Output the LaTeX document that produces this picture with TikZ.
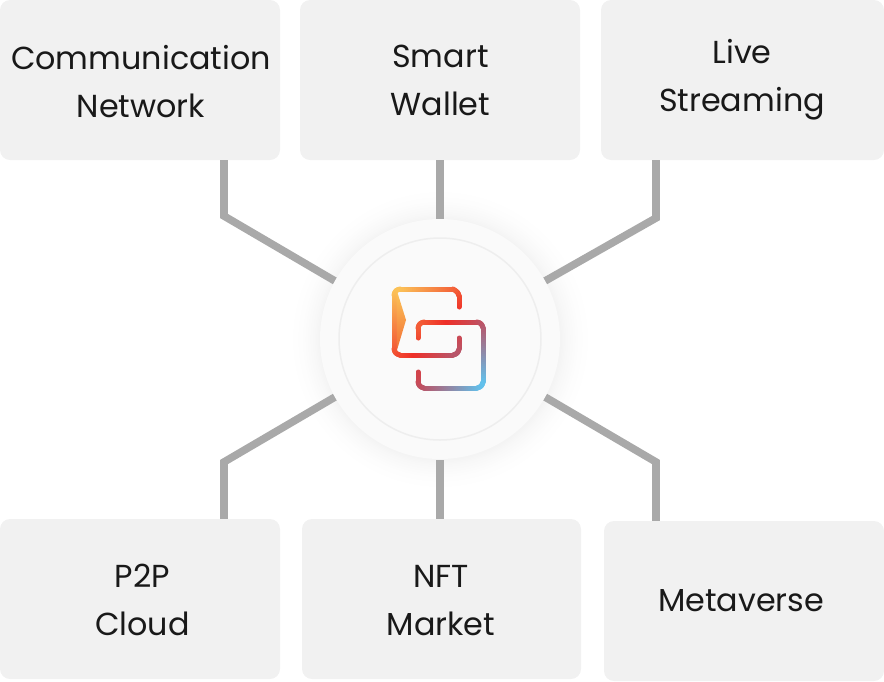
\documentclass[tikz,border=0pt]{standalone}
\usepackage{fontspec}
\setmainfont{Poppins}
\definecolor{boxfill}{HTML}{F1F1F1}
\definecolor{linkgray}{HTML}{A9A9A9}
\definecolor{ringfill}{HTML}{FAFAFA}
\definecolor{ringline}{HTML}{EEEEEE}
\definecolor{gA}{HTML}{FCC95A}
\definecolor{gB}{HTML}{EF2F28}
\definecolor{gC}{HTML}{B8566A}
\definecolor{gD}{HTML}{5CC8F5}
\definecolor{wedgeend}{HTML}{F26B35}
\pgfdeclareradialshading{halo}{\pgfpointorigin}{
  color(0bp)=(black!4.5);
  color(20bp)=(black!4.5);
  color(21bp)=(black!2.8);
  color(23bp)=(black!0.9);
  color(25bp)=(white);
  color(50bp)=(white)}
\tikzset{
  card/.style={fill=boxfill,rounded corners=10pt,inner sep=0pt},
  cardtext/.style={inner sep=0pt,align=center,font=\fontsize{31.8}{48}\selectfont,text=black!90},
  link/.style={draw=linkgray,line width=7.6pt,line join=miter},
}
\newcommand{\gradcolor}[1]{%
  \pgfmathsetmacro{\gt}{#1}%
  \ifdim\gt pt<770pt
    \pgfmathsetmacro{\gp}{max(0,min(100,(\gt-683)/87*100))}\colorlet{gcur}{gB!\gp!gA}%
  \else\ifdim\gt pt<810pt
    \pgfmathsetmacro{\gp}{(\gt-770)/40*100}\colorlet{gcur}{gC!\gp!gB}%
  \else
    \pgfmathsetmacro{\gp}{min(100,(\gt-810)/61*100)}\colorlet{gcur}{gD!\gp!gC}%
  \fi\fi}
% polyline with colour following x+y
\newcommand{\gradline}[1]{%
  \def\havepoint{0}%
  \foreach \px/\py in {#1}{%
    \ifnum\havepoint=1
      \pgfmathsetmacro{\seglen}{veclen(\px-\lastx,\py-\lasty)}%
      \pgfmathtruncatemacro{\segn}{max(1,round(\seglen/2))}%
      \foreach \k in {1,...,\segn}{%
        \pgfmathsetmacro{\ax}{\lastx+(\px-\lastx)*(\k-1)/\segn}%
        \pgfmathsetmacro{\ay}{\lasty+(\py-\lasty)*(\k-1)/\segn}%
        \pgfmathsetmacro{\bx}{\lastx+(\px-\lastx)*\k/\segn}%
        \pgfmathsetmacro{\by}{\lasty+(\py-\lasty)*\k/\segn}%
        \gradcolor{(\ax+\ay+\bx+\by)/2}%
        \draw[gcur,line width=5pt,line cap=round] (\ax,\ay) -- (\bx,\by);
      }%
    \fi
    \global\let\lastx\px \global\let\lasty\py
    \gdef\havepoint{1}%
  }%
  \gdef\havepoint{0}%
}
\begin{document}
\begin{tikzpicture}[x=1pt,y=-1pt]
\useasboundingbox (0,0) rectangle (884,681);
% centre halo
\coordinate (hub) at (440,339);
\shade[shading=halo] (hub) circle (150);
% cards
\node[card,minimum width=280pt,minimum height=160pt] (c1) at (140,80) {};
\node[card,minimum width=280pt,minimum height=160pt] (c2) at (440,80) {};
\node[card,minimum width=283pt,minimum height=160pt] (c3) at (742.5,80) {};
\node[card,minimum width=280pt,minimum height=160pt] (c4) at (140,599) {};
\node[card,minimum width=279pt,minimum height=160pt] (c5) at (441.5,599) {};
\node[card,minimum width=280pt,minimum height=160pt] (c6) at (744,601) {};
\node[cardtext] (t1) at (141,82) {Communication\\Network};
\node[cardtext] (t2) at (440.5,80.5) {Smart\\Wallet};
\node[cardtext] (t3) at (742,79.5) {Live\\Streaming};
\node[cardtext] (t4) at (142.5,600) {P2P\\Cloud};
\node[cardtext] (t5) at (441,600.5) {NFT\\Market};
\node[cardtext] (t6) at (741,601) {Metaverse};
% connectors
\coordinate (b1) at (224,216); \coordinate (e1) at (335,281);
\coordinate (e2) at (440,220);
\coordinate (b3) at (656,218); \coordinate (e3) at (545,281);
\coordinate (b4) at (224,462); \coordinate (e4) at (335,397);
\coordinate (e5) at (440,460);
\coordinate (b6) at (656,462); \coordinate (e6) at (545,397);
\draw[link] (c1.south -| b1) -- (b1) -- (e1);
\draw[link] (c2.south -| e2) -- (e2);
\draw[link] (c3.south -| b3) -- (b3) -- (e3);
\draw[link] (c4.north -| b4) -- (b4) -- (e4);
\draw[link] (c5.north -| e5) -- (e5);
\draw[link] (c6.north -| b6) -- (b6) -- (e6);
% hub
\fill[ringfill] (hub) circle (120);
\draw[ringline,line width=1.5pt] (hub) circle (101);
% logo wedge
\shade[top color=gA,bottom color=wedgeend] (394,291) .. controls (394,289) and (395,288) .. (396,288) -- (406,320) -- (397,350) -- (394,352) -- cycle;
\gradline{459/307,459/296,458/293,456/291,453/289,400/289,397/290,395/292,394/295,394/349,395/352,397/354,400/355,453/355,456/354,458/352,459/349,459/338}
\gradline{418/338,418/328,419/325,421/323,424/322,477/322,480/323,482/325,483/328,483/382,482/385,480/387,477/388,424/388,421/387,419/385,418/382,418/372}
\end{tikzpicture}
\end{document}
